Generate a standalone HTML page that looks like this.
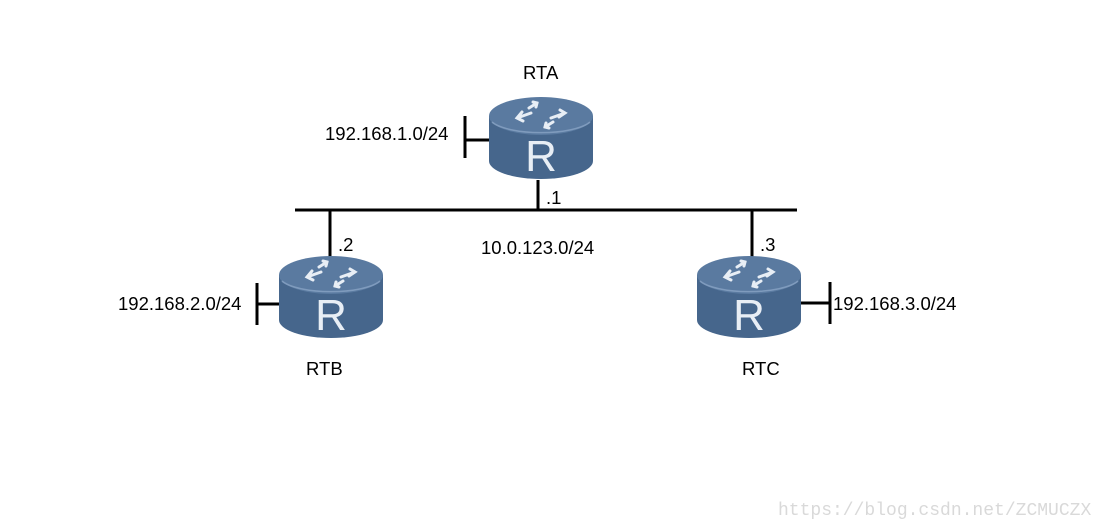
<!DOCTYPE html>
<html><head><meta charset="utf-8"><style>
body{margin:0;background:#fff;width:1102px;height:528px;overflow:hidden}
svg{display:block}
text{font-family:"Liberation Sans",sans-serif;font-size:18.5px;fill:#000}
</style></head><body>
<svg width="1102" height="528" viewBox="0 0 1102 528">
<defs>
<g id="r">
<path d="M0 19 L0 64 A52 18 0 0 0 104 64 L104 19 Z" fill="#46668c"/>
<ellipse cx="52" cy="19" rx="52" ry="19" fill="#5a7aa0"/>
<path d="M3 25 A52 16 0 0 0 101 25" fill="none" stroke="#7f9bbd" stroke-width="1.5"/>
<g stroke="#e8eef5" stroke-width="3" fill="none" stroke-linecap="round">
<path d="M40 11 L48 6 M44 5 L48 6 L47 10"/>
<path d="M64 25 L56 30 M60 31 L56 30 L57 26"/>
<path d="M28 21 L42 16 M33 15 L28 21 L34 24"/>
<path d="M76 16 L62 21 M71 13 L76 16 L70 20"/>
</g>
<text x="52" y="74" text-anchor="middle" style="font-size:44px;fill:#e8eef5">R</text>
</g>
</defs>
<g stroke="#000" stroke-width="3">
<line x1="295" y1="210" x2="797" y2="210"/>
<line x1="538" y1="180" x2="538" y2="210"/>
<line x1="330" y1="210" x2="330" y2="258"/>
<line x1="752" y1="210" x2="752" y2="258"/>
<line x1="465" y1="116" x2="465" y2="158"/>
<line x1="465" y1="140" x2="492" y2="140"/>
<line x1="257" y1="283" x2="257" y2="325"/>
<line x1="257" y1="304" x2="282" y2="304"/>
<line x1="830" y1="282" x2="830" y2="324"/>
<line x1="800" y1="303" x2="830" y2="303"/>
</g>
<use href="#r" x="489" y="97"/>
<use href="#r" x="279" y="256"/>
<use href="#r" x="697" y="256"/>
<text x="523" y="79">RTA</text>
<text x="325" y="140">192.168.1.0/24</text>
<text x="546" y="204">.1</text>
<text x="338" y="251">.2</text>
<text x="760" y="251">.3</text>
<text x="481" y="254">10.0.123.0/24</text>
<text x="118" y="310">192.168.2.0/24</text>
<text x="833" y="310">192.168.3.0/24</text>
<text x="306" y="375">RTB</text>
<text x="742" y="375">RTC</text>
<text x="778" y="515" style="font-family:'Liberation Mono','DejaVu Serif',serif;font-size:18px;fill:#d9d9d9">https://blog.csdn.net/ZCMUCZX</text>
</svg>
</body></html>
